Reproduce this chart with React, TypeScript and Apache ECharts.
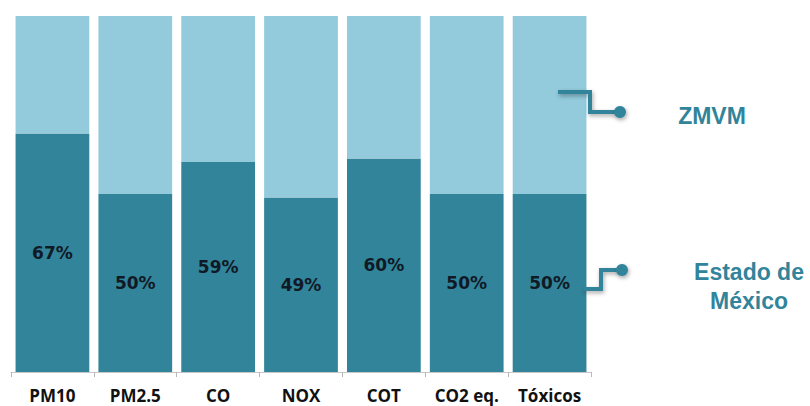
import React, { useEffect, useRef } from "react";
import * as echarts from "echarts";

const categories = ["PM10", "PM2.5", "CO", "NOX", "COT", "CO2 eq.", "Tóxicos"];
const estadoDeMexico = [67, 50, 59, 49, 60, 50, 50];
const zmvm = estadoDeMexico.map((v) => 100 - v);
const seriesNames = ["Estado de México", "ZMVM"];

const DARK = "#32849a";
const LIGHT = "#93cbdc";

export default function App() {
  const ref = useRef<HTMLDivElement>(null);
  useEffect(() => {
    if (!ref.current) return;
    const chart = echarts.init(ref.current, undefined, { renderer: "svg" });
    const lineStyle = {
      stroke: DARK,
      lineWidth: 4,
      fill: null as any,
      shadowBlur: 4,
      shadowColor: "rgba(0,0,0,0.35)",
      shadowOffsetX: 1,
      shadowOffsetY: 2,
    };
    chart.setOption({
      animation: false,
      grid: { left: 11, right: 219, top: 16, bottom: 34, containLabel: false },
      xAxis: {
        type: "category",
        data: categories,
        axisLine: { show: true, lineStyle: { color: "#c8c8c8", width: 1 } },
        axisTick: { show: true, length: 5, lineStyle: { color: "#b8b8b8" } },
        axisLabel: {
          interval: 0,
          hideOverlap: false,
          color: "#111",
          fontWeight: "bold",
          fontSize: 17,
          fontFamily: "Open Sans",
          margin: 15,
        },
      },
      yAxis: {
        type: "value",
        min: 0,
        max: 100,
        show: false,
        splitLine: { show: false },
      },
      series: [
        {
          name: seriesNames[0],
          type: "bar",
          stack: "total",
          data: estadoDeMexico,
          barCategoryGap: "11%",
          itemStyle: { color: DARK },
          label: {
            show: true,
            position: "inside",
            formatter: "{c}%",
            color: "#101a26",
            fontWeight: "bold",
            fontSize: 17,
            fontFamily: "DejaVu Sans",
          },
        },
        {
          name: seriesNames[1],
          type: "bar",
          stack: "total",
          data: zmvm,
          barCategoryGap: "11%",
          itemStyle: { color: LIGHT },
          label: { show: false },
        },
      ],
      graphic: [
        {
          type: "polyline",
          shape: { points: [[558, 92], [590, 92], [590, 112], [618, 112]] },
          style: lineStyle,
          z: 10,
        },
        {
          type: "circle",
          shape: { cx: 620, cy: 112, r: 6 },
          style: { fill: DARK, shadowBlur: 4, shadowColor: "rgba(0,0,0,0.35)", shadowOffsetX: 1, shadowOffsetY: 2 },
          z: 10,
        },
        {
          type: "polyline",
          shape: { points: [[584, 289], [601, 289], [601, 270], [620, 270]] },
          style: lineStyle,
          z: 10,
        },
        {
          type: "circle",
          shape: { cx: 622, cy: 270, r: 6 },
          style: { fill: DARK, shadowBlur: 4, shadowColor: "rgba(0,0,0,0.35)", shadowOffsetX: 1, shadowOffsetY: 2 },
          z: 10,
        },
        {
          type: "text",
          x: 712,
          y: 116,
          style: {
            text: seriesNames[1],
            fill: DARK,
            font: "bold 23px 'Liberation Sans', Arial, sans-serif",
            align: "center",
            verticalAlign: "middle",
          },
        },
        {
          type: "text",
          x: 749,
          y: 286,
          style: {
            text: "Estado de\nMéxico",
            fill: DARK,
            font: "bold 23px 'Liberation Sans', Arial, sans-serif",
            align: "center",
            verticalAlign: "middle",
            lineHeight: 29,
          },
        },
      ],
    });
    return () => chart.dispose();
  }, []);
  return <div ref={ref} style={{ width: 810, height: 406, position: "absolute", left: 0, top: 0 }} />;
}
